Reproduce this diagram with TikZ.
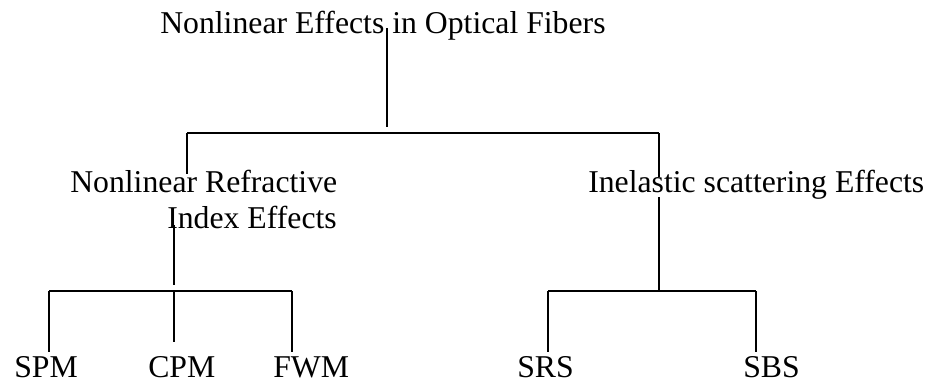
\documentclass[tikz,border=0pt]{standalone}
\usepackage{fontspec}
\setmainfont{Liberation Serif}
\begin{document}
\begin{tikzpicture}[x=0.75pt,y=-0.75pt,
  lbl/.style={anchor=base west,inner sep=0pt,font=\fontsize{23.8}{28}\selectfont},
  conn/.style={line width=1.3pt,line cap=butt}]
\useasboundingbox (0,0) rectangle (935,382);
% nodes
\node[lbl] (title) at (160,33) {Nonlinear Effects in Optical Fibers};
\node[lbl] (nlra) at (70,192) {Nonlinear Refractive};
\node[lbl] (nlrb) at (167,228) {Index Effects};
\node[lbl] (ise) at (588,192) {Inelastic scattering Effects};
\node[lbl] (spm) at (14,377) {SPM};
\node[lbl] (cpm) at (148,377) {CPM};
\node[lbl] (fwm) at (273,377) {FWM};
\node[lbl] (srs) at (517,377) {SRS};
\node[lbl] (sbs) at (743,377) {SBS};
% coordinates
\coordinate (t1) at (387,28);
\coordinate (t2) at (387,127);
\coordinate (hL) at (187,133);
\coordinate (hR) at (659,133);
\coordinate (lA) at (187,174);
\coordinate (rA) at (659,177);
\coordinate (rB) at (659,197);
\coordinate (rJ) at (659,291);
\coordinate (iA) at (174,225);
\coordinate (iB) at (174,285);
\coordinate (lhL) at (49,291);
\coordinate (lhM) at (174,291);
\coordinate (lhR) at (292,291);
\coordinate (rhL) at (548,291);
\coordinate (rhR) at (756,291);
\coordinate (eSPM) at (49,352);
\coordinate (eCPM) at (174,342);
\coordinate (eFWM) at (292,352);
\coordinate (eSRS) at (548,352);
\coordinate (eSBS) at (756,352);
% connectors
\draw[conn] (t1) -- (t2);
\draw[conn] (hL) -- (hR);
\draw[conn] (hL) -- (lA);
\draw[conn] (hR) -- (rA);
\draw[conn] (rB) -- (rJ);
\draw[conn] (iA) -- (iB);
\draw[conn] (lhL) -- (lhR);
\draw[conn] (lhL) -- (eSPM);
\draw[conn] (lhM) -- (eCPM);
\draw[conn] (lhR) -- (eFWM);
\draw[conn] (rhL) -- (rhR);
\draw[conn] (rhL) -- (eSRS);
\draw[conn] (rhR) -- (eSBS);
\end{tikzpicture}
\end{document}
